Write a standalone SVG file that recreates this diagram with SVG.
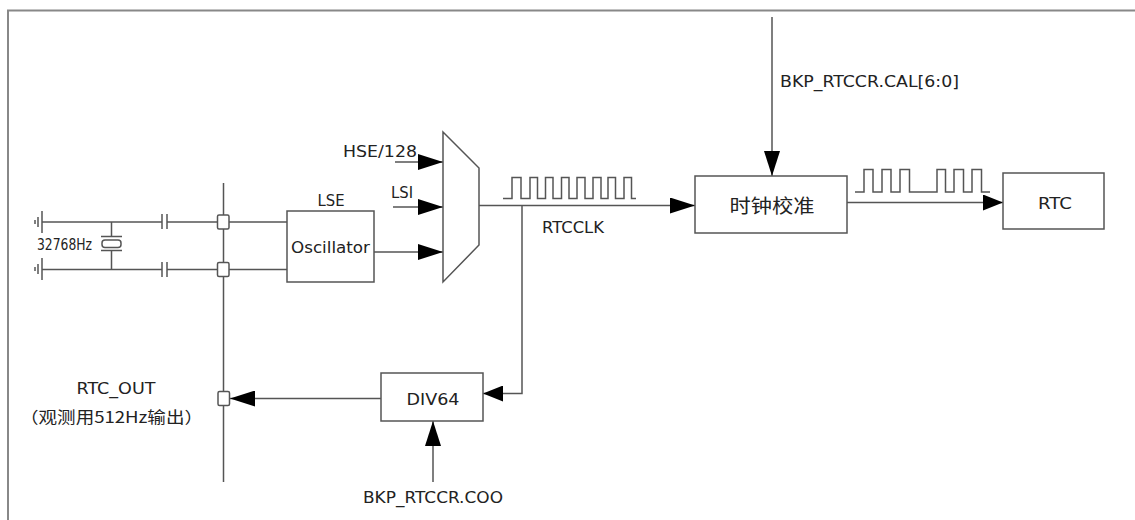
<svg xmlns="http://www.w3.org/2000/svg" width="1135" height="520" viewBox="0 0 1135 520">
<style>
.w{fill:none;stroke:#555;stroke-width:1.5}
.box{fill:#fff;stroke:#555;stroke-width:1.5}
.pad{fill:#fff;stroke:#555;stroke-width:1.5}
.t{font-family:"DejaVu Sans","Noto Sans CJK SC",sans-serif;font-size:15px;fill:#222}
.cjk{font-family:"Noto Sans CJK SC","DejaVu Sans",sans-serif;fill:#222}
.a{marker-end:url(#ah)}
.as{marker-end:url(#ahs)}
</style>
<defs>
<marker id="ah" markerUnits="userSpaceOnUse" markerWidth="25" markerHeight="16" refX="25" refY="8" orient="auto">
<path d="M0,0 L25,8 L0,16 z" fill="#000"/>
</marker>
<marker id="ahs" markerUnits="userSpaceOnUse" markerWidth="20" markerHeight="16" refX="20" refY="8" orient="auto">
<path d="M0,0 L20,8 L0,16 z" fill="#000"/>
</marker>
</defs>
<rect width="1135" height="520" fill="#fff"/>
<polyline points="8,520 8,10.5 1135,10.5" fill="none" stroke="#888" stroke-width="2"/>

<g id="crystal">
<path class="w" d="M42,211 V233 M38,217 V227 M35,220 V224"/>
<path class="w" d="M42,258 V280 M38,264 V274 M35,267 V271"/>
<path class="w" d="M42,222 H162 M162,214 V229 M167,214 V229 M167,222 H217.5"/>
<path class="w" d="M42,269.5 H162 M162,262 V277 M167,262 V277 M167,269.5 H217.5"/>
<path class="w" d="M111.5,222 V236.5 M101,236.5 H122 M101,250.5 H122 M111.5,250.5 V269.5"/>
<rect x="102" y="240" width="19" height="7.5" rx="3" class="w"/>
<text class="t" x="37" y="250" font-size="11" textLength="55" lengthAdjust="spacingAndGlyphs">32768Hz</text>
</g>

<g id="connectors">
<path class="w" d="M223.5,183 V482"/>
<path class="w" d="M229,222 H287 M229,269.5 H287"/>
<path class="w a" d="M395,162 H443"/>
<path class="w a" d="M393,207 H443"/>
<path class="w a" d="M374,252 H443"/>
<path class="w a" d="M479,205.5 H695"/>
<path class="w as" d="M522,205.5 V393.5 H483"/>
<path class="w a" d="M381,398.5 H230"/>
<path class="w a" d="M433,482 V421"/>
<path class="w a" d="M772,17 V176"/>
<path class="w as" d="M847,202.5 H1003"/>
<path class="w" d="M503,198.5 H512 V177.5 H521 V198.5 H530 V177.5 H537.5 V198.5 H545.5 V177.5 H553 V198.5 H561.5 V177.5 H569 V198.5 H577 V177.5 H585 V198.5 H593 V177.5 H601 V198.5 H608 V177.5 H615.5 V198.5 H624 V177.5 H631.5 V198.5 H636"/>
<path class="w" d="M855,192 H864 V169.5 H873 V192 H882 V169.5 H891 V192 H900 V169.5 H909.5 V192 H937 V169.5 H945.5 V192 H954 V169.5 H963.5 V192 H972 V169.5 H981.5 V192 H990"/>
</g>

<g id="pads">
<rect class="pad" x="217.5" y="215" width="11.5" height="14" rx="1.5"/>
<rect class="pad" x="217.5" y="262.5" width="11.5" height="14" rx="1.5"/>
<rect class="pad" x="218" y="391.5" width="11.5" height="14" rx="1.5"/>
</g>

<g id="lse">
<rect class="box" x="287" y="211" width="87" height="71"/>
<text class="t" x="331" y="206" text-anchor="middle" textLength="27" lengthAdjust="spacingAndGlyphs">LSE</text>
<text class="t" x="291" y="253" textLength="79" lengthAdjust="spacingAndGlyphs">Oscillator</text>
</g>

<g id="inputs">
<text class="t" x="343" y="157" textLength="74" lengthAdjust="spacingAndGlyphs">HSE/128</text>
<text class="t" x="391" y="198" textLength="22" lengthAdjust="spacingAndGlyphs">LSI</text>
</g>

<g id="mux">
<polygon class="box" points="443,132 479,168 479,245 443,282"/>
</g>

<g id="rtcclk-label">
<text class="t" x="542" y="233" textLength="62" lengthAdjust="spacingAndGlyphs">RTCCLK</text>
</g>

<g id="calib">
<rect class="box" x="695" y="176" width="152" height="57"/>
<text class="cjk" x="772" y="213" font-size="19" text-anchor="middle" textLength="85" lengthAdjust="spacingAndGlyphs">时钟校准</text>
<text class="t" x="780" y="87" textLength="179" lengthAdjust="spacingAndGlyphs">BKP_RTCCR.CAL[6:0]</text>
</g>

<g id="rtc">
<rect class="box" x="1003" y="173" width="101" height="56"/>
<text class="t" x="1055" y="209" text-anchor="middle" textLength="34" lengthAdjust="spacingAndGlyphs">RTC</text>
</g>

<g id="div64">
<rect class="box" x="381" y="373" width="102" height="48"/>
<text class="t" x="433" y="405" text-anchor="middle" textLength="53" lengthAdjust="spacingAndGlyphs">DIV64</text>
<text class="t" x="433" y="503" text-anchor="middle" textLength="140" lengthAdjust="spacingAndGlyphs">BKP_RTCCR.COO</text>
</g>

<g id="rtc-out">
<text class="t" x="116" y="394" text-anchor="middle" textLength="79" lengthAdjust="spacingAndGlyphs">RTC_OUT</text>
<text class="cjk" x="20" y="423" font-size="16" textLength="183" lengthAdjust="spacingAndGlyphs">（观测用512Hz输出）</text>
</g>
</svg>
